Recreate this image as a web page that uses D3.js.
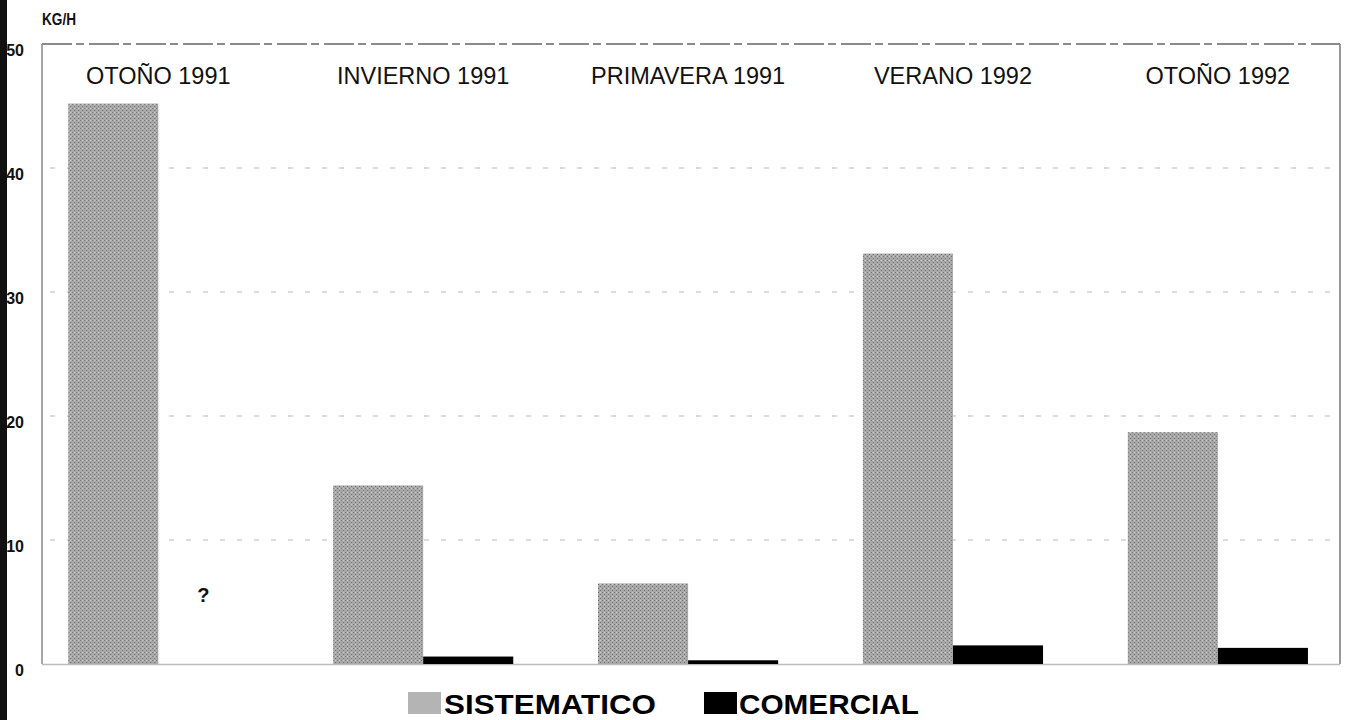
<!DOCTYPE html>
<html>
<head>
<meta charset="utf-8">
<script src="https://cdn.jsdelivr.net/npm/d3@7"></script>
<style>
  html, body { margin: 0; padding: 0; background: #fff; }
  svg { display: block; }
</style>
</head>
<body>
<svg id="chart" width="1351" height="720"></svg>
<script>
const categories = ["OTOÑO 1991", "INVIERNO 1991", "PRIMAVERA 1991", "VERANO 1992", "OTOÑO 1992"];
const series = ["SISTEMATICO", "COMERCIAL"];
const sistematico = [45.2, 14.4, 6.5, 33.1, 18.7];
const comercial = [0, 0.6, 0.3, 1.5, 1.3];
const yTicks = [0, 10, 20, 30, 40, 50];
const unitLabel = "KG/H";
const unknownMark = { category: "OTOÑO 1991", series: "COMERCIAL", text: "?", at: 5 };

(function () {
const svg = d3.select("#chart");
const pLeft = 42, pRight = 1340, pTop = 44, pBottom = 664;

const x = d3.scaleBand().domain(categories).range([pLeft, pRight])
  .paddingInner(0.32).paddingOuter(0.11).align(0.45);
const xs = d3.scaleBand().domain(series).range([0, x.bandwidth()]);
const y = d3.scaleLinear().domain([0, 50]).range([pBottom, pTop]);

const defs = svg.append("defs");
const pat = defs.append("pattern").attr("id", "stip").attr("patternUnits", "userSpaceOnUse")
  .attr("width", 4).attr("height", 4);
pat.append("rect").attr("width", 4).attr("height", 4).attr("fill", "#a9a9a9");
pat.append("rect").attr("x", 0).attr("y", 0).attr("width", 1).attr("height", 1).attr("fill", "#6e6e6e");
pat.append("rect").attr("x", 2).attr("y", 2).attr("width", 1).attr("height", 1).attr("fill", "#6e6e6e");
pat.append("rect").attr("x", 2).attr("y", 0).attr("width", 1).attr("height", 1).attr("fill", "#d0d0d0");

// scan strip on the left edge
svg.append("rect").attr("x", 0).attr("y", 0).attr("width", 7).attr("height", 720).attr("fill", "#111");

// gridlines
svg.append("g").selectAll("line").data(yTicks.filter(d => d > 0 && d < 50)).join("line")
  .attr("x1", pLeft + 8).attr("x2", pRight - 10)
  .attr("y1", d => y(d)).attr("y2", d => y(d))
  .attr("stroke", "#d0d0d0").attr("stroke-width", 1.5).attr("stroke-dasharray", "5,12");

// frame
svg.append("line").attr("x1", pLeft).attr("x2", pRight).attr("y1", pTop).attr("y2", pTop)
  .attr("stroke", "#666").attr("stroke-width", 1.5).attr("stroke-dasharray", "30,4,8,5");
svg.append("line").attr("x1", pRight).attr("x2", pRight).attr("y1", pTop).attr("y2", pBottom)
  .attr("stroke", "#777").attr("stroke-width", 1.5);
svg.append("line").attr("x1", pLeft).attr("x2", pLeft).attr("y1", pTop).attr("y2", pBottom)
  .attr("stroke", "#888").attr("stroke-width", 1.5);
svg.append("line").attr("x1", pLeft).attr("x2", pRight).attr("y1", pBottom + 0.5).attr("y2", pBottom + 0.5)
  .attr("stroke", "#bbb").attr("stroke-width", 1.5);

// y tick labels
svg.append("g").selectAll("text").data(yTicks).join("text")
  .attr("x", 24).attr("y", d => y(d) + 12)
  .attr("text-anchor", "end")
  .attr("font-family", "Liberation Sans, Arial, sans-serif")
  .attr("font-weight", "bold").attr("font-size", 16)
  .attr("fill", "#111")
  .text(d => d);

svg.append("text").attr("x", pLeft).attr("y", 25)
  .attr("font-family", "Liberation Sans, Arial, sans-serif")
  .attr("font-size", 17).attr("fill", "#111").attr("font-weight", "bold")
  .attr("textLength", 34).attr("lengthAdjust", "spacingAndGlyphs")
  .text(unitLabel);

// bars
const rows = categories.map((c, i) => ({ c, vals: [sistematico[i], comercial[i]] }));
const g = svg.append("g").selectAll("g").data(rows).join("g")
  .attr("transform", d => `translate(${x(d.c)},0)`);
g.selectAll("rect").data(d => d.vals.map((v, j) => ({ s: series[j], v }))).join("rect")
  .attr("x", d => xs(d.s)).attr("width", xs.bandwidth())
  .attr("y", d => y(d.v)).attr("height", d => y(0) - y(d.v))
  .attr("fill", d => d.s === "SISTEMATICO" ? "url(#stip)" : "#000");

// category labels
svg.append("g").selectAll("text").data(categories).join("text")
  .attr("x", d => x(d) + x.bandwidth() / 2).attr("y", 84)
  .attr("text-anchor", "middle")
  .attr("font-family", "Liberation Sans, Arial, sans-serif")
  .attr("font-size", 23.5).attr("fill", "#111")
  .text(d => d);

// unknown mark
svg.append("text")
  .attr("x", x(unknownMark.category) + xs(unknownMark.series) + xs.bandwidth() / 2)
  .attr("y", y(unknownMark.at))
  .attr("text-anchor", "middle")
  .attr("font-family", "Liberation Sans, Arial, sans-serif")
  .attr("font-weight", "bold").attr("font-size", 20).attr("fill", "#111")
  .text(unknownMark.text);

// legend
const legend = [
  { s: "SISTEMATICO", sx: 408, tx: 444, len: 212, fill: "#b4b4b4" },
  { s: "COMERCIAL", sx: 704, tx: 739, len: 180, fill: "#000" }
];
const lg = svg.append("g");
lg.selectAll("rect").data(legend).join("rect")
  .attr("x", d => d.sx).attr("y", 692).attr("width", 33).attr("height", 22)
  .attr("fill", d => d.fill);
lg.selectAll("text").data(legend).join("text")
  .attr("x", d => d.tx).attr("y", 714)
  .attr("font-family", "Liberation Sans, Arial, sans-serif")
  .attr("font-weight", "bold").attr("font-size", 28).attr("fill", "#000")
  .attr("textLength", d => d.len).attr("lengthAdjust", "spacingAndGlyphs")
  .text(d => d.s);
})();
</script>
</body>
</html>
